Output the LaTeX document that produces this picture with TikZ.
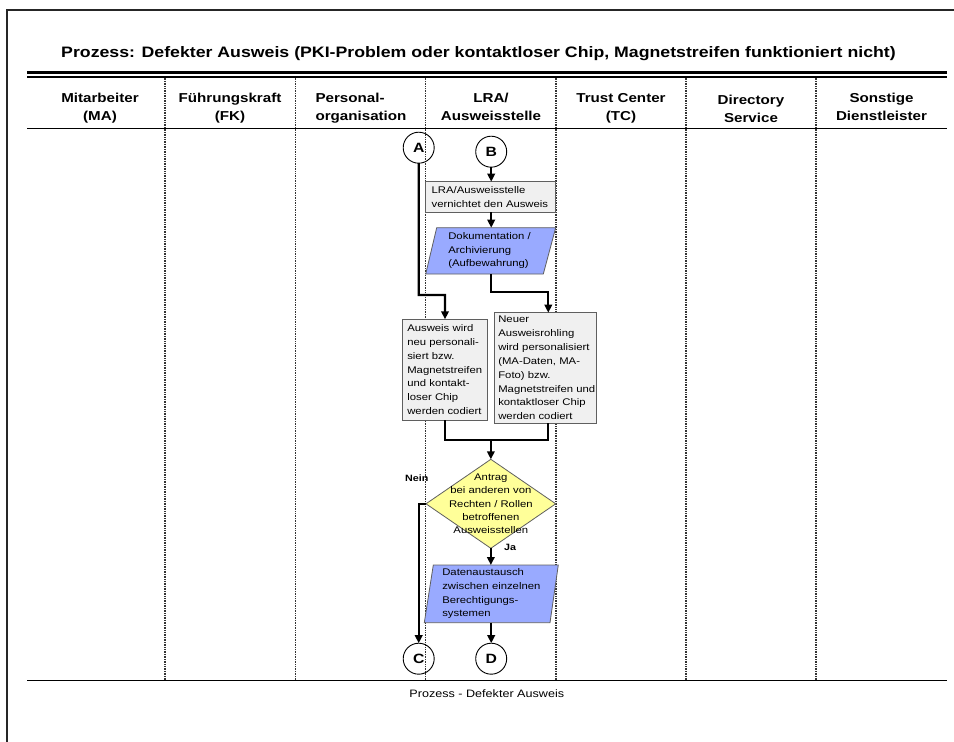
\documentclass[tikz,border=0pt]{standalone}
\usepackage{fontspec}
\setmainfont{Liberation Sans}[FakeStretch=1.17]
\usetikzlibrary{arrows.meta}
\pgfdeclarelayer{bg}
\pgfsetlayers{bg,main}
\definecolor{boxgray}{RGB}{240,240,240}
\definecolor{edgegray}{RGB}{95,95,95}
\definecolor{parablue}{RGB}{153,170,255}
\definecolor{decyellow}{RGB}{255,255,153}
\newcommand\hstrut{\vrule width 0pt height 9.5pt depth 2.8pt}
\tikzset{
  framel/.style={line width=1.3bp, black!85},
  titlef/.style={font=\fontsize{15.2}{18}\selectfont\bfseries, inner sep=0, anchor=base},
  hdr/.style={font=\fontsize{13}{18.7}\selectfont\bfseries, align=center, inner sep=0},
  lane/.style={line width=1.3bp, dash pattern=on 1bp off 0.7bp, black!80},
  conn/.style={line width=2.3bp, -{Triangle[length=8bp,width=7.5bp]}},
  plainconn/.style={line width=2.3bp},
  stepbox/.style={draw=edgegray, fill=boxgray, line width=0.8bp, inner ysep=0, outer sep=0,
    align=left, font=\fontsize{9.7}{13.9}\selectfont, anchor=north west},
  paranode/.style={inner ysep=0, outer sep=0, align=left, font=\fontsize{9.7}{13.7}\selectfont, anchor=north west},
  parafill/.style={draw=edgegray, fill=parablue, line width=0.8bp},
  decnode/.style={inner sep=0, outer sep=0, align=center, font=\fontsize{9.7}{13.4}\selectfont},
  decfill/.style={draw=edgegray, fill=decyellow, line width=0.8bp},
  conncirc/.style={circle, draw, line width=0.9bp, minimum size=31bp, inner sep=0, outer sep=0,
    font=\fontsize{13.5}{13.5}\selectfont\bfseries},
  lbl/.style={font=\fontsize{9.2}{10}\selectfont\bfseries, inner sep=0},
  capt/.style={font=\fontsize{10.8}{13}\selectfont, inner sep=0}
}
\begin{document}
\begin{tikzpicture}[x=1bp,y=-1bp]
\useasboundingbox (0,0) rectangle (954,742);
% outer frame
\draw[framel] (7,742) -- (7,10) -- (954,10);
% title
\node[titlef] (title) at (478.5,57.3) {Prozess: Defekter Ausweis (PKI-Problem oder kontaktloser Chip, Magnetstreifen funktioniert nicht)};
% header rules
\draw[line width=3.3bp] (27,72.3) -- (947,72.3);
\draw[line width=1.2bp] (27,77) -- (947,77);
\draw[line width=0.9bp] (27,128.3) -- (947,128.3);
\draw[line width=1.3bp] (27,680.3) -- (947,680.3);
% lanes
\begin{pgfonlayer}{bg}
\foreach \x in {165,295.5,425.8,556,686,816}
  \draw[lane] (\x,77.6) -- (\x,680);
\end{pgfonlayer}
% header texts
\node[hdr] (h1) at (100,108) {\hstrut Mitarbeiter\\\hstrut (MA)};
\node[hdr] (h2) at (230,108) {\hstrut Führungskraft\\\hstrut (FK)};
\node[hdr, align=left] (h3) at (361,108) {\hstrut Personal-\\\hstrut organisation};
\node[hdr] (h4) at (491,108) {\hstrut LRA/\\\hstrut Ausweisstelle};
\node[hdr] (h5) at (621,108) {\hstrut Trust Center\\\hstrut (TC)};
\node[hdr] (h6) at (751,110) {\hstrut Directory\\\hstrut Service};
\node[hdr] (h7) at (881.5,108) {\hstrut Sonstige\\\hstrut Dienstleister};
% connector circles
\node[conncirc] (A) at (418.7,147.7) {A};
\node[conncirc] (B) at (491.2,151.7) {B};
\node[conncirc] (C) at (418.7,658.7) {C};
\node[conncirc] (D) at (491.2,658.7) {D};
% process boxes
\node[stepbox, minimum width=130bp, minimum height=30.6bp, text width=118bp, inner xsep=6bp]
  (b1) at (425.7,181.7) {LRA/Ausweisstelle\\\mbox{vernichtet den Ausweis}};
\node[paranode, minimum width=130bp, minimum height=46.3bp, text width=84.8bp, inner xsep=22.6bp]
  (p1) at (425.7,227.7) {\mbox{Dokumentation /}\\Archivierung\\(Aufbewahrung)};
\node[stepbox, minimum width=84.6bp, minimum height=100.7bp, text width=75.4bp, inner xsep=4.6bp]
  (b2) at (402.7,319.3) {\mbox{Ausweis wird}\\\mbox{neu personali-}\\\mbox{siert bzw.}\\Magnetstreifen\\\mbox{und kontakt-}\\\mbox{loser Chip}\\\mbox{werden codiert}};
\node[stepbox, minimum width=102.4bp, minimum height=110.6bp, text width=94.4bp, inner xsep=4bp]
  (b3) at (494.3,312.7) {Neuer\\Ausweisrohling\\\mbox{wird personalisiert}\\\mbox{(MA-Daten, MA-}\\\mbox{Foto) bzw.}\\\mbox{Magnetstreifen und}\\\mbox{kontaktloser Chip}\\\mbox{werden codiert}};
\node[decnode, minimum width=129.7bp, minimum height=89bp] (dec) at (490.85,503.8)
  {Antrag\\bei anderen von\\Rechten / Rollen\\betroffenen\\Ausweisstellen};
\node[paranode, minimum width=134bp, minimum height=57.7bp, text width=98bp, inner xsep=18bp]
  (p2) at (424.3,565) {Datenaustausch\\\mbox{zwischen einzelnen}\\Berechtigungs-\\systemen};
% shape fills behind texts
\begin{pgfonlayer}{bg}
\draw[parafill] ([xshift=11bp]p1.north west) -- (p1.north east) -- ([xshift=-12.4bp]p1.south east) -- (p1.south west) -- cycle;
\draw[decfill] (dec.north) -- (dec.east) -- (dec.south) -- (dec.west) -- cycle;
\draw[parafill] ([xshift=9bp]p2.north west) -- (p2.north east) -- ([xshift=-8.3bp]p2.south east) -- (p2.south west) -- cycle;
\end{pgfonlayer}
% junctions
\coordinate (j1) at (445,295);
\coordinate (j2) at (548.3,291.7);
\coordinate (j3) at (490.85,440);
% connectors
\draw[conn] (B.south) -- (B.south |- b1.north);
\draw[conn] (b1.south -| B) -- (p1.north -| B);
\draw[conn] (A.south) |- (j1) -- (b2.north);
\draw[conn] (p1.south) |- (j2) -- (j2 |- b3.north);
\draw[plainconn] (b2.south) |- (j3);
\draw[plainconn] (b3.south -| j2) |- (j3);
\draw[conn] (j3) -- (dec.north);
\draw[conn] (dec.south) -- (p2.north -| dec.south);
\draw[conn] (dec.west) -| (C.north);
\draw[conn] (p2.south -| D) -- (D.north);
% labels
\node[lbl] (nein) at (416.7,478) {Nein};
\node[lbl] (ja) at (510,547) {Ja};
% caption
\node[capt] (caption) at (486.8,693.3) {Prozess - Defekter Ausweis};
\end{tikzpicture}
\end{document}
